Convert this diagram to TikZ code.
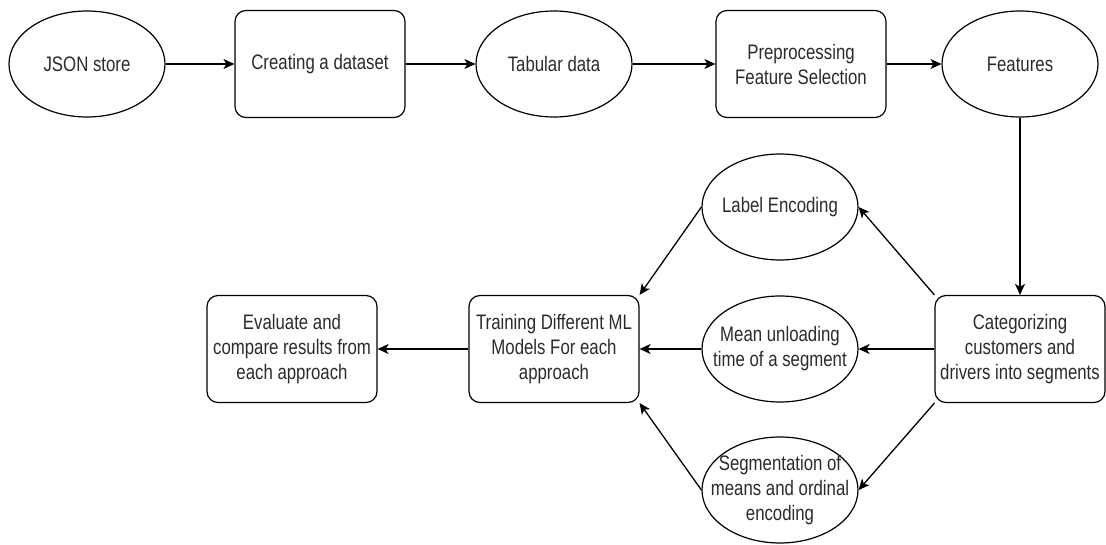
\documentclass[tikz,border=0pt]{standalone}
\usepackage{fontspec}
\setmainfont{Liberation Sans}[FakeStretch=0.8]
\usetikzlibrary{shapes.geometric,arrows.meta}
\definecolor{txt}{HTML}{2B2B2B}
\begin{document}
\begin{tikzpicture}[x=1pt,y=-1pt,
  every node/.style={font=\fontsize{21}{25}\selectfont, text=txt},
  box/.style={draw, line width=1.2pt, rounded corners=11pt, minimum width=170pt, minimum height=107pt, align=center, inner sep=0pt},
  ell/.style={draw, line width=1.2pt, shape=ellipse, minimum width=156pt, minimum height=106pt, inner sep=0pt},
  lbl/.style={align=center, inner sep=0pt},
  conn/.style={line width=1.3pt, -{Stealth[length=11pt,width=10pt,inset=3pt]}}]
\useasboundingbox (0,0) rectangle (1106,545);
% top row
\node[ell, label={[lbl]center:JSON store}] (json) at (87,64) {};
\node[box] (create) at (320,64) {Creating a dataset};
\node[ell, label={[lbl]center:Tabular data}] (tab) at (554,64) {};
\node[box] (prep) at (801,64) {Preprocessing\\Feature Selection};
\node[ell, label={[lbl]center:Features}] (feat) at (1020,64) {};
% lower part
\node[ell, label={[lbl]center:Label Encoding}] (lab) at (780,207) {};
\node[box] (cat) at (1020,349) {Categorizing\\customers and\\drivers into segments};
\node[ell, label={[lbl]center:Mean unloading\\time of a segment}] (mean) at (780,349) {};
\node[ell, label={[lbl]center:Segmentation of\\means and ordinal\\encoding}] (seg) at (780,490) {};
\node[box] (train) at (554,349) {Training Different ML\\Models For each\\approach};
\node[box] (eval) at (292,349) {Evaluate and\\compare results from\\each approach};
% connectors
\draw[conn] (json.east) -- (create.west);
\draw[conn] (create.east) -- (tab.west);
\draw[conn] (tab.east) -- (prep.west);
\draw[conn] (prep.east) -- (feat.west);
\draw[conn] (feat.south) -- (cat.north);
\draw[conn] (cat.north west) -- (lab.east);
\draw[conn] (cat.west) -- (mean.east);
\draw[conn] (cat.south west) -- (seg.east);
\draw[conn] (lab.west) -- (train.north east);
\draw[conn] (mean.west) -- (train.east);
\draw[conn] (seg.west) -- (train.south east);
\draw[conn] (train.west) -- (eval.east);
\end{tikzpicture}
\end{document}
